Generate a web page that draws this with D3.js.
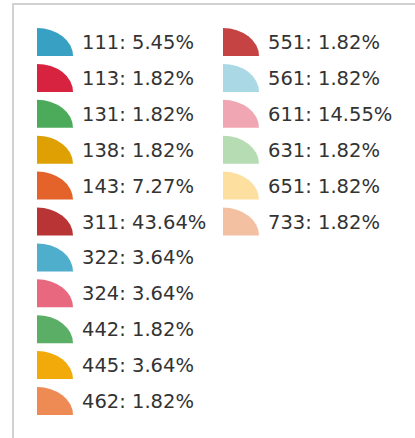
<!DOCTYPE html>
<html>
<head>
<meta charset="utf-8">
<script src="https://cdn.jsdelivr.net/npm/d3@7"></script>
<style>
  html, body { margin: 0; padding: 0; background: #fff; }
  svg { display: block; }
</style>
</head>
<body>
<svg id="legend"></svg>
<script>
"use strict";

// Legend data
const codes = ["111", "113", "131", "138", "143", "311", "322", "324", "442", "445", "462",
  "551", "561", "611", "631", "651", "733"];
const shares = [5.45, 1.82, 1.82, 1.82, 7.27, 43.64, 3.64, 3.64, 1.82, 3.64, 1.82,
  1.82, 1.82, 14.55, 1.82, 1.82, 1.82];
const colors = ["#37a0c3", "#d82340", "#4cab5b", "#dea003", "#e3632a", "#b93434", "#4eaecb",
  "#e8697f", "#5bae65", "#f1aa0a", "#ee8a53", "#c64343", "#aad8e4", "#f0a7b3",
  "#b6dcb4", "#fde09f", "#f3c0a2"];

const width = 415;
const height = 438;
const perCol = 11;

const svg = d3.select("#legend").attr("width", width).attr("height", height);

// Frame: only top and left edges are visible in the crop
svg.append("path")
  .attr("d", `M13,${height} V4 H${width}`)
  .attr("fill", "none")
  .attr("stroke", "#d2d2d2")
  .attr("stroke-width", 2);

const items = codes.map((c, i) => ({ code: c, share: shares[i], color: colors[i], i }));

// Row / column placement through scales
const y = d3.scaleLinear().domain([0, perCol - 1]).range([42, 401]);
const x = d3.scaleOrdinal().domain([0, 1]).range([37, 223]);

const iconW = 36;
const iconH = 28;

const item = svg.selectAll("g.item")
  .data(items)
  .join("g")
  .attr("class", "item")
  .attr("transform", (d) =>
    `translate(${x(Math.floor(d.i / perCol))}, ${y(d.i % perCol)})`);

// quarter-ellipse icon (pie slice)
item.append("path")
  .attr("d", `M0,${iconH / 2} V${-iconH / 2} A${iconW},${iconH} 0 0 1 ${iconW},${iconH / 2} Z`)
  .attr("fill", (d) => d.color);

item.append("text")
  .attr("x", 45)
  .attr("y", 0)
  .attr("dy", "0.36em")
  .attr("font-family", "'DejaVu Sans', Verdana, sans-serif")
  .attr("font-size", 19.5)
  .attr("fill", "#333")
  .text((d) => `${d.code}: ${d.share.toFixed(2)}%`);
</script>
</body>
</html>
